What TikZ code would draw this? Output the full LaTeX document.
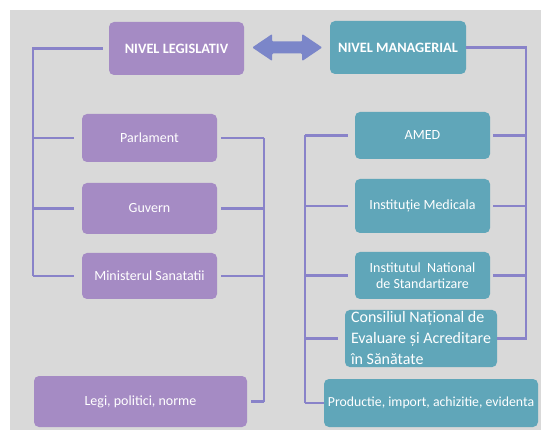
\documentclass[tikz,border=0pt]{standalone}
\usepackage{fontspec}
\setmainfont{Carlito}
\usepackage{tikz}
\usetikzlibrary{calc}
\definecolor{bg}{HTML}{D9D9D9}
\definecolor{lila}{HTML}{A58BC4}
\definecolor{petrol}{HTML}{60A6B9}
\definecolor{link}{HTML}{8983C9}
\definecolor{arrowc}{HTML}{7B86C9}
\tikzset{
  box/.style={rounded corners=5pt, text=white, align=center, inner sep=2pt,
    font=\fontsize{14}{16}\selectfont},
  leg/.style={box, fill=lila},
  man/.style={box, fill=petrol},
  head/.style={font=\fontsize{14.3}{16}\selectfont\bfseries},
  wire/.style={draw=link, line width=2.3pt, line join=miter},
}

\begin{document}
\begin{tikzpicture}[x=1pt, y=-1pt]
  % background
  \fill[white] (0,0) rectangle (541,430);
  \fill[bg] (10,10) rectangle (541,430);

  % legislative column
  \node[leg, head, minimum width=135pt, minimum height=53pt] (legis) at (176.5,48.5) {NIVEL LEGISLATIV};
  \node[leg, minimum width=135pt, minimum height=48pt] (parl) at (149.5,138) {Parlament};
  \node[leg, minimum width=135pt, minimum height=51pt] (guv) at (149.5,208.5) {Guvern};
  \node[leg, minimum width=135pt, minimum height=46pt] (min) at (149.5,276) {Ministerul Sanatatii};
  \node[leg, minimum width=213pt, minimum height=51pt] (legi) at (140.5,401.5) {Legi, politici, norme};

  % managerial column
  \node[man, head, minimum width=136pt, minimum height=53pt] (manag) at (398,47.5) {NIVEL MANAGERIAL};
  \node[man, minimum width=135pt, minimum height=47pt] (amed) at (422.5,135.5) {AMED};
  \node[man, minimum width=135pt, minimum height=54pt] (inst) at (422.5,206) {Instituție Medicala};
  \node[man, minimum width=135pt, minimum height=47pt] (ins) at (422.5,275.5) {Institutul~ National\\de Standartizare};
  \node[man, minimum width=152pt, minimum height=51pt, align=left,
    font=\fontsize{16}{21}\selectfont] (cons) at (421,338.5)
    {Consiliul Național de\\Evaluare și Acreditare\\în Sănătate};
  \node[man, minimum width=214pt, minimum height=48pt, inner sep=0pt,
    font=\fontsize{13.8}{16}\selectfont] (prod) at (431,403) {Productie, import, achizitie, evidenta};

  % double arrow between the two levels
  \fill[arrowc, rounded corners=1pt] ($(legis.east)+(8,-1)$) -- ++(20,-13.5) -- ++(0,7.5)
    -- ++(30,0) -- ++(0,-7.5) -- ++(20,13.5) -- ++(-20,13.5) -- ++(0,-7.5)
    -- ++(-30,0) -- ++(0,7.5) -- cycle;

  % buses
  \coordinate (lbus) at (33,0);
  \coordinate (lrbus) at (264,0);
  \coordinate (mbus) at (305,0);
  \coordinate (rbus) at (526,0);

  % legislative connectors
  \draw[wire, shorten >=6pt] (min.west -| lbus) -- (legis.west -| lbus) -- (legis.west);
  \foreach \n in {parl,guv,min}
    \draw[wire, shorten >=8pt] (\n.west -| lbus) -- (\n.west);
  \draw[wire] (parl.east -| lrbus) -- (legi.east -| lrbus);
  \foreach \n in {parl,guv,min,legi}
    \draw[wire, shorten >=4pt] (\n.east -| lrbus) -- (\n.east);

  % managerial connectors
  \draw[wire] (manag.east) -- (manag.east -| rbus) -- (cons.east -| rbus) -- (cons.east);
  \foreach \n in {amed,inst,ins}
    \draw[wire, shorten >=3pt] (\n.east -| rbus) -- (\n.east);
  \draw[wire] (amed.west -| mbus) -- (prod.west -| mbus);
  \foreach \n in {amed,inst,ins,cons}
    \draw[wire, shorten >=7pt] (\n.west -| mbus) -- (\n.west);
  \draw[wire] (prod.west -| mbus) -- (prod.west);
\end{tikzpicture}
\end{document}
